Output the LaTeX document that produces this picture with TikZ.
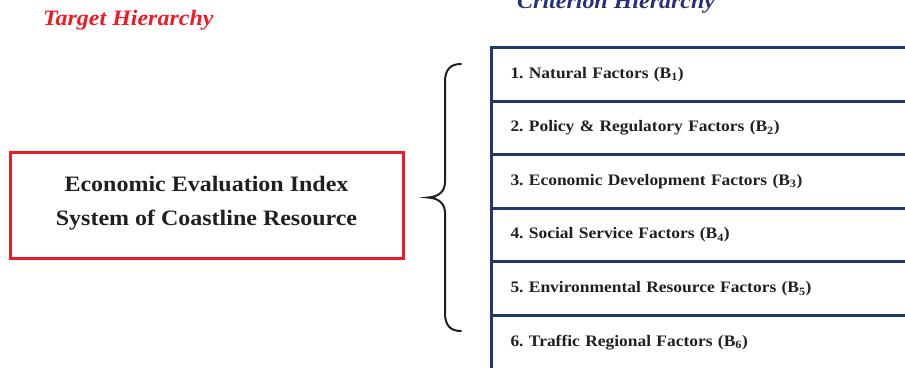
\documentclass[tikz,border=0pt]{standalone}
\usepackage{fontspec}
\setmainfont[FakeStretch=1.09]{Liberation Serif}
\definecolor{tred}{HTML}{ED1C24}
\definecolor{navyline}{HTML}{1F3A68}
\definecolor{navytext}{HTML}{262F7A}
\definecolor{ink}{HTML}{231F20}
\begin{document}
\frenchspacing
\begin{tikzpicture}[x=1pt,y=-1pt,
  rowbox/.style={draw=navyline, line width=3pt, anchor=north west,
    minimum width=430pt, minimum height=53.6pt, text width=392pt,
    align=left, inner xsep=19pt, font=\fontsize{16}{19}\selectfont\bfseries, text=ink},
  heading/.style={font=\fontsize{22}{26}\selectfont\bfseries\itshape, anchor=base west, inner sep=0pt}]
\useasboundingbox (0,0) rectangle (905,367);
\node[heading, text=tred] (target) at (43,25.7) {Target Hierarchy};
\node[heading, text=navytext] (criterion) at (517,8) {Criterion Hierarchy};
\node[draw=tred, line width=3pt, minimum width=393pt, minimum height=106pt]
  (goal) at (206.5,205) {};
\node[font=\fontsize{22}{34}\selectfont\bfseries, text=ink, align=center,
  anchor=base, inner sep=0pt] (goaltext) at (206.5,225)
  {Economic Evaluation Index\\System of Coastline Resource};
\node[rowbox] (b1) at (490,46) {1. Natural Factors (B\textsubscript{1})};
\node[rowbox] (b2) at (490,99.6) {2. Policy \& Regulatory Factors (B\textsubscript{2})};
\node[rowbox] (b3) at (490,153.2) {3. Economic Development Factors (B\textsubscript{3})};
\node[rowbox] (b4) at (490,206.8) {4. Social Service Factors (B\textsubscript{4})};
\node[rowbox] (b5) at (490,260.4) {5. Environmental Resource Factors (B\textsubscript{5})};
\node[rowbox] (b6) at (490,314) {6. Traffic Regional Factors (B\textsubscript{6})};
\draw[line width=2pt, ink, line cap=round]
  (461,64) .. controls (450,64) and (445,70) .. (445,82)
  -- (445,182) .. controls (445,191) and (439,197) .. (428,197.5)
  .. controls (439,198) and (445,204) .. (445,213)
  -- (445,313) .. controls (445,325) and (450,331) .. (461,331);
\end{tikzpicture}
\end{document}
